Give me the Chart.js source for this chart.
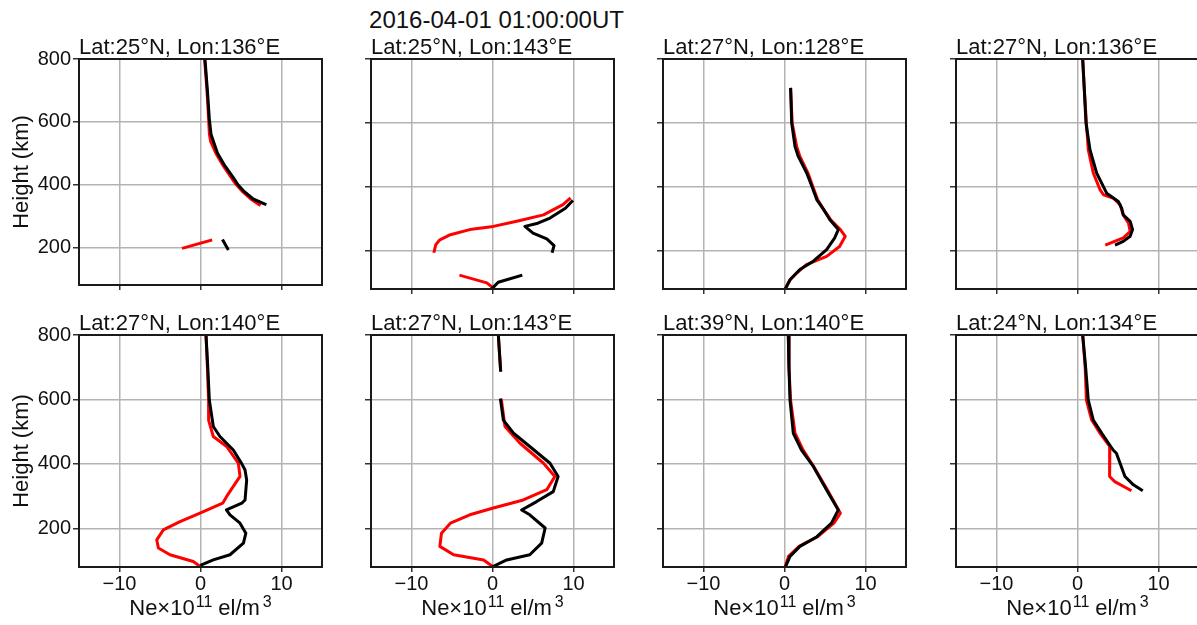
<!DOCTYPE html>
<html><head><meta charset="utf-8">
<script src="https://cdn.jsdelivr.net/npm/chart.js@4"></script>
<style>
html,body{margin:0;padding:0;background:#fff;overflow:hidden;width:1197px;height:625px;position:relative;}
#sup{position:absolute;left:0;top:8px;width:993px;text-align:center;font-family:'Liberation Sans',Arial,sans-serif;font-size:24px;line-height:24px;color:#111;white-space:nowrap;}
</style></head><body>
<div id="sup"></div>
<script>
// ---------- data ----------
const mainTitle = '2016-04-01 01:00:00UT';
const panelTitles = ['Lat:25°N, Lon:136°E','Lat:25°N, Lon:143°E','Lat:27°N, Lon:128°E','Lat:27°N, Lon:136°E',
                     'Lat:27°N, Lon:140°E','Lat:27°N, Lon:143°E','Lat:39°N, Lon:140°E','Lat:24°N, Lon:134°E'];
const yTicks = [200, 400, 600, 800];
const xTicks = [-10, 0, 10];
const xRange = [-15, 15];
const yRange = [80, 800];
const yTitle = 'Height (km)';
const xLabelMain = ['Ne\u00d710', 'el/m'];
const xLabelSup = ['11', '3'];

const blackH1 = [800, 700, 609, 560, 537, 500, 460, 422, 400, 380, 354, 338, 280, 221, 196];
const blackNe1 = [0.55, 0.85, 1.09, 1.3, 1.6, 2.1, 3.0, 4.05, 4.6, 5.3, 6.5, 7.96, null, 2.8, 3.35];
const redH1 = [800, 700, 609, 560, 537, 500, 460, 422, 400, 380, 354, 336, 280, 222, 198];
const redNe1 = [0.5, 0.8, 1.0, 1.1, 1.26, 1.9, 2.8, 3.8, 4.4, 5.1, 6.2, 7.26, null, 1.26, -2.1];

const blackH2 = [354, 333, 302, 286, 276, 255, 237, 216, 198, 160, 122, 101, 83];
const blackNe2 = [9.8, 9.0, 7.1, 5.6, 4.0, 5.0, 6.7, 7.6, 7.4, null, 3.5, 0.7, 0.0];
const redH2 = [362, 344, 312, 292, 276, 266, 250, 234, 219, 198, 160, 122, 99, 83];
const redNe2 = [9.5, 8.7, 6.3, 3.0, 0.1, -2.8, -5.2, -6.5, -7.0, -7.2, null, -3.9, -0.7, 0.1];

const blackH3 = [705, 599, 526, 495, 443, 400, 359, 330, 297, 266, 240, 203, 167, 141, 109, 83];
const blackNe3 = [0.76, 0.89, 1.3, 1.7, 2.74, 3.4, 4.0, 4.8, 5.6, 6.64, 6.2, 5.2, 3.56, 1.9, 0.68, 0.15];
const redH3 = [705, 599, 526, 495, 443, 400, 359, 330, 297, 266, 245, 213, 182, 156, 130, 109, 83];
const redNe3 = [0.76, 0.95, 1.5, 1.9, 2.9, 3.5, 4.1, 4.8, 5.7, 6.9, 7.5, 6.8, 5.2, 2.7, 1.5, 0.7, 0.15];

const blackH4 = [800, 700, 599, 516, 443, 380, 354, 333, 312, 292, 266, 245, 229, 219];
const blackNe4 = [0.64, 0.85, 1.05, 1.54, 2.37, 3.6, 5.04, 5.45, 5.65, 6.5, 6.8, 6.5, 5.65, 4.8];
const redH4 = [800, 700, 599, 516, 443, 391, 375, 365, 344, 312, 286, 260, 240, 219];
const redNe4 = [0.64, 0.85, 1.1, 1.33, 1.95, 2.78, 3.2, 4.4, 5.25, 5.65, 6.3, 6.5, 5.65, 3.6];

const blackH5 = [800, 700, 598, 516, 485, 443, 400, 381, 350, 288, 278, 257, 242, 216, 185, 154, 118, 102, 87];
const blackNe5 = [0.68, 0.9, 1.09, 1.58, 2.4, 4.05, 5.1, 5.5, 5.7, 5.5, 5.1, 3.2, 3.64, 4.88, 5.6, 5.3, 3.64, 1.58, 0.15];
const redH5 = [800, 700, 598, 536, 485, 454, 402, 361, 330, 299, 278, 247, 221, 195, 164, 139, 118, 97, 82];
const redNe5 = [0.68, 0.85, 1.0, 1.0, 1.58, 3.23, 4.67, 4.88, 4.05, 3.23, 2.74, -0.06, -2.53, -4.6, -5.4, -5.2, -3.77, -0.9, -0.06];

const blackH6 = [800, 691, 650, 598, 536, 495, 454, 402, 361, 314, 283, 257, 242, 201, 154, 118, 102, 82];
const blackNe6 = [0.72, 1.0, null, 1.0, 1.34, 2.6, 4.6, 7.1, 8.1, 7.5, 5.45, 3.6, 4.6, 6.5, 6.07, 4.6, 1.75, 0.1];
const redH6 = [800, 691, 650, 598, 516, 464, 402, 361, 320, 288, 263, 242, 216, 185, 144, 118, 102, 82];
const redNe6 = [0.72, 1.0, null, 1.1, 1.54, 3.4, 6.3, 7.7, 6.7, 3.8, 0.1, -2.8, -5.2, -6.3, -6.5, -4.8, -1.1, 0.0];

const blackH7 = [800, 700, 598, 495, 443, 392, 319, 257, 216, 174, 144, 113, 82];
const blackNe7 = [0.47, 0.55, 0.68, 1.09, 2.1, 3.56, 5.2, 6.64, 5.8, 4.0, 1.9, 0.68, 0.15];
const redH7 = [800, 700, 598, 495, 443, 392, 319, 247, 216, 174, 144, 113, 82];
const redNe7 = [0.47, 0.55, 0.75, 1.3, 2.3, 3.6, 5.3, 6.9, 6.1, 4.1, 1.8, 0.5, 0.1];

const blackH8 = [800, 700, 598, 536, 495, 443, 433, 361, 335, 319];
const blackNe8 = [0.64, 1.0, 1.33, 1.95, 3.0, 4.4, 4.8, 5.86, 6.9, 7.9];
const redH8 = [800, 700, 598, 536, 495, 454, 433, 361, 345, 319];
const redNe8 = [0.64, 0.95, 1.1, 1.75, 2.78, 4.0, 3.93, 4.0, 4.6, 6.5];

const panels = [
  [blackH1, blackNe1, redH1, redNe1], [blackH2, blackNe2, redH2, redNe2],
  [blackH3, blackNe3, redH3, redNe3], [blackH4, blackNe4, redH4, redNe4],
  [blackH5, blackNe5, redH5, redNe5], [blackH6, blackNe6, redH6, redNe6],
  [blackH7, blackNe7, redH7, redNe7], [blackH8, blackNe8, redH8, redNe8]
];

// ---------- layout / style ----------
const FONT = "'Liberation Sans', Arial, Helvetica, sans-serif";
Chart.defaults.font.family = FONT;
Chart.defaults.color = '#111';
document.getElementById('sup').textContent = mainTitle;

const plotLefts = [79, 371, 663, 956];
const plotTops = [59, 335];
const plotHs = [230, 232];
const plotW = 243;
const titleH = 22;

const framePlugin = {
  id: 'frame',
  afterDraw(chart, args, opts) {
    const {ctx, chartArea: a} = chart;
    ctx.save();
    ctx.strokeStyle = '#1a1a1a';
    ctx.lineWidth = 2;
    ctx.strokeRect(a.left, a.top, a.right - a.left, a.bottom - a.top);
    if (opts.xlabel) {
      ctx.fillStyle = '#111';
      ctx.textBaseline = 'alphabetic';
      ctx.textAlign = 'left';
      const big = '22px ' + FONT, small = '16px ' + FONT;
      ctx.font = big;
      const w0 = ctx.measureText(xLabelMain[0]).width;
      const w2 = ctx.measureText(xLabelMain[1]).width;
      ctx.font = small;
      const w1 = ctx.measureText(xLabelSup[0]).width;
      const w3 = ctx.measureText(xLabelSup[1]).width;
      const g1 = 1, g2 = 6, g3 = 3;
      const total = w0 + g1 + w1 + g2 + w2 + g3 + w3;
      let x = (a.left + a.right) / 2 - total / 2;
      const base = a.bottom + 48, supBase = base - 8.5;
      ctx.font = big; ctx.fillText(xLabelMain[0], x, base); x += w0 + g1;
      ctx.font = small; ctx.fillText(xLabelSup[0], x, supBase); x += w1 + g2;
      ctx.font = big; ctx.fillText(xLabelMain[1], x, base); x += w2 + g3;
      ctx.font = small; ctx.fillText(xLabelSup[1], x, supBase);
    }
    ctx.restore();
  }
};

const pts = (hs, ne) => hs.map((h, k) => ({x: ne[k], y: h}));
const fmtX = v => (v < 0 ? '\u2212' + Math.abs(v) : String(v));

panels.forEach((p, i) => {
  const row = Math.floor(i / 4), col = i % 4;
  const yW = col === 0 ? 79 : 8;
  const bottomH = row === 1 ? 58 : 10;
  const rightPad = 4;
  const W = yW + plotW + rightPad, H = titleH + plotHs[row] + bottomH;
  const cv = document.createElement('canvas');
  cv.width = W; cv.height = H;
  cv.style.cssText = `position:absolute;left:${plotLefts[col] - yW}px;top:${plotTops[row] - titleH}px;width:${W}px;height:${H}px;`;
  document.body.appendChild(cv);
  new Chart(cv, {
    type: 'line',
    data: {
      datasets: [
        {data: pts(p[0], p[1]), borderColor: '#000000', borderWidth: 3, pointRadius: 0, tension: 0,
         borderJoinStyle: 'round', borderCapStyle: 'square', spanGaps: false},
        {data: pts(p[2], p[3]), borderColor: '#ff0000', borderWidth: 3, pointRadius: 0, tension: 0,
         borderJoinStyle: 'round', borderCapStyle: 'square', spanGaps: false}
      ]
    },
    options: {
      indexAxis: 'y',
      responsive: false,
      animation: false,
      events: [],
      layout: {padding: {left: 0, right: rightPad, top: 0, bottom: 0}},
      plugins: {
        legend: {display: false},
        tooltip: {enabled: false},
        title: {display: true, text: panelTitles[i], align: 'start', fullSize: false,
                font: {size: 22, lineHeight: 1, weight: 'normal'}, color: '#111', padding: {top: 0, bottom: 0}},
        frame: {xlabel: row === 1}
      },
      scales: {
        x: {
          type: 'linear', min: xRange[0], max: xRange[1],
          afterBuildTicks: s => { s.ticks = xTicks.map(v => ({value: v})); },
          afterFit: s => { s.height = bottomH; },
          grid: {color: '#b3b3b3', lineWidth: 1.5, tickColor: '#333', tickWidth: 1.5, tickLength: 5, drawTicks: true},
          border: {display: false},
          ticks: {display: row === 1, font: {size: 20}, color: '#111', padding: 0, maxRotation: 0, callback: v => fmtX(v)}
        },
        y: {
          type: 'linear', min: yRange[0], max: yRange[1],
          afterBuildTicks: s => { s.ticks = yTicks.map(v => ({value: v})); },
          afterFit: s => { s.width = yW; },
          grid: {color: '#b3b3b3', lineWidth: 1.5, tickColor: '#333', tickWidth: 1.5, tickLength: 6, drawTicks: true},
          border: {display: false},
          ticks: {display: col === 0, font: {size: 20}, color: '#111', padding: 2, callback: v => String(v)},
          title: {display: col === 0, text: yTitle, font: {size: 22, lineHeight: 1}, color: '#111', padding: {top: 11, bottom: 0}}
        }
      }
    },
    plugins: [framePlugin]
  });
});
</script>
</body></html>
